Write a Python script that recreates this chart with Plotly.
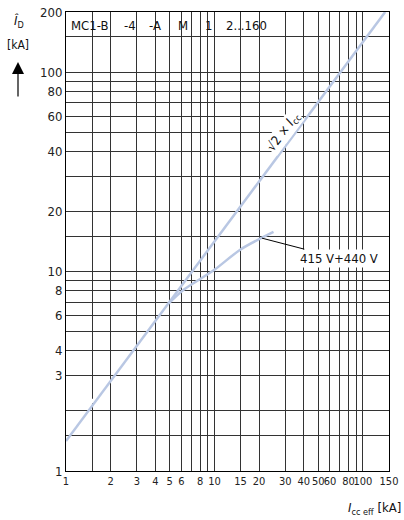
import math
import plotly.graph_objects as go

# gridline positions and tick labels
x_grid = [1, 1.5, 2, 3, 4, 5, 6, 7, 8, 9, 10, 15, 20, 30, 40, 50, 60, 70, 80, 90, 100, 150]
x_text = ["1", "", "2", "3", "4", "5", "6", "", "8", "", "10", "15", "20", "30", "40", "50", "60", "", "80", "", "100", "150"]
y_grid = [1, 1.5, 2, 3, 4, 5, 6, 7, 8, 9, 10, 15, 20, 30, 40, 50, 60, 70, 80, 90, 100, 150, 200]
y_text = ["1", "", "", "3", "4", "", "6", "", "8", "", "10", "", "20", "", "40", "", "60", "", "80", "", "100", "", "200"]

# series
peak_x = [1, 141.4]
peak_y = [1.414, 200]
lim_x = [4.9, 6.2, 10, 15, 25]
lim_y = [6.9, 8.1, 10.2, 12.9, 15.8]

header_parts = ["MC1-B", "-4", "-A", "M", "1", "2...160"]
header_px = [69, 122, 147, 176, 203, 224]

FONT = "DejaVu Sans Condensed, Liberation Sans Narrow, Roboto, sans-serif"
LINE_COLOR = "#b9c7e3"
GRID = "#333333"

L, R, T, B = 66, 15, 12, 49
W, H = 404, 520
pw = W - L - R
ph = H - T - B

def px2paper_x(px):
    return (px - L) / pw

def px2paper_y(py):
    return (H - B - py) / ph

fig = go.Figure()
fig.add_trace(go.Scatter(x=peak_x, y=peak_y, mode="lines",
                         line=dict(color=LINE_COLOR, width=2.5), hoverinfo="skip"))
fig.add_trace(go.Scatter(x=lim_x, y=lim_y, mode="lines",
                         line=dict(color=LINE_COLOR, width=2.5, shape="spline", smoothing=0.8),
                         hoverinfo="skip"))

fig.update_xaxes(type="log", range=[0, math.log10(150)], tickvals=x_grid, ticktext=x_text,
                 showgrid=True, gridcolor=GRID, gridwidth=1, showline=True, linecolor="black",
                 linewidth=1, mirror=True, ticks="", zeroline=False, tickangle=0,
                 automargin=False,
                 tickfont=dict(family=FONT, size=11, color="#222"))
fig.update_yaxes(type="log", range=[0, math.log10(200)], tickvals=y_grid, ticktext=y_text,
                 showgrid=True, gridcolor=GRID, gridwidth=1, showline=True, linecolor="black",
                 linewidth=1, mirror=True, ticks="", zeroline=False, automargin=False,
                 tickfont=dict(family=FONT, size=13, color="#222"))

# blank header region (covers grid between 150 and 200 left of 40)
fig.add_shape(type="rect", xref="x", yref="y", x0=0, x1=math.log10(38.5),
              y0=math.log10(153), y1=math.log10(200), fillcolor="white",
              line=dict(width=0), layer="between")

ann = []
for t, p in zip(header_parts, header_px):
    ann.append(dict(text=t, xref="paper", yref="paper", x=px2paper_x(p), y=px2paper_y(25),
                    xanchor="left", yanchor="middle", showarrow=False,
                    font=dict(family=FONT, size=13, color="#111")))

ann.append(dict(text="√2 × <i>I</i><sub>cc</sub>", xref="paper", yref="paper",
                x=px2paper_x(283), y=px2paper_y(132), xanchor="center", yanchor="middle",
                textangle=-53, showarrow=False, bgcolor="white", borderpad=0,
                font=dict(family=FONT, size=13, color="#111")))

ann.append(dict(text="415 V+440 V", xref="x", yref="y", x=math.log10(20.9), y=math.log10(14.7),
                ax=77, ay=20, axref="pixel", ayref="pixel", showarrow=True, arrowhead=0,
                arrowwidth=1, arrowcolor="black", standoff=0, bgcolor="white", borderpad=1,
                font=dict(family=FONT, size=13, color="#111")))

ann.append(dict(text="<i>Î</i><sub>D</sub>", xref="paper", yref="paper",
                x=px2paper_x(19), y=px2paper_y(21), xanchor="center", yanchor="middle",
                showarrow=False, font=dict(family=FONT, size=13, color="#111")))
ann.append(dict(text="[kA]", xref="paper", yref="paper",
                x=px2paper_x(18), y=px2paper_y(45), xanchor="center", yanchor="middle",
                showarrow=False, font=dict(family=FONT, size=12, color="#111")))
ann.append(dict(text="", xref="paper", yref="paper",
                x=px2paper_x(18), y=px2paper_y(62), ax=0, ay=36, showarrow=True,
                arrowhead=2, arrowsize=2, arrowwidth=1.2, arrowcolor="black"))
ann.append(dict(text="<i>I</i><sub>cc eff</sub> [kA]", xref="paper", yref="paper",
                x=px2paper_x(403), y=px2paper_y(508), xanchor="right", yanchor="middle",
                showarrow=False, font=dict(family=FONT, size=13, color="#111")))

fig.update_layout(width=W, height=H, margin=dict(l=L, r=R, t=T, b=B, autoexpand=False),
                  paper_bgcolor="white", plot_bgcolor="white", showlegend=False,
                  annotations=ann)

fig.write_html("out.html", config={"displayModeBar": False},
               post_script="document.body.style.margin='0';document.body.style.padding='0';document.body.style.overflow='hidden';")
